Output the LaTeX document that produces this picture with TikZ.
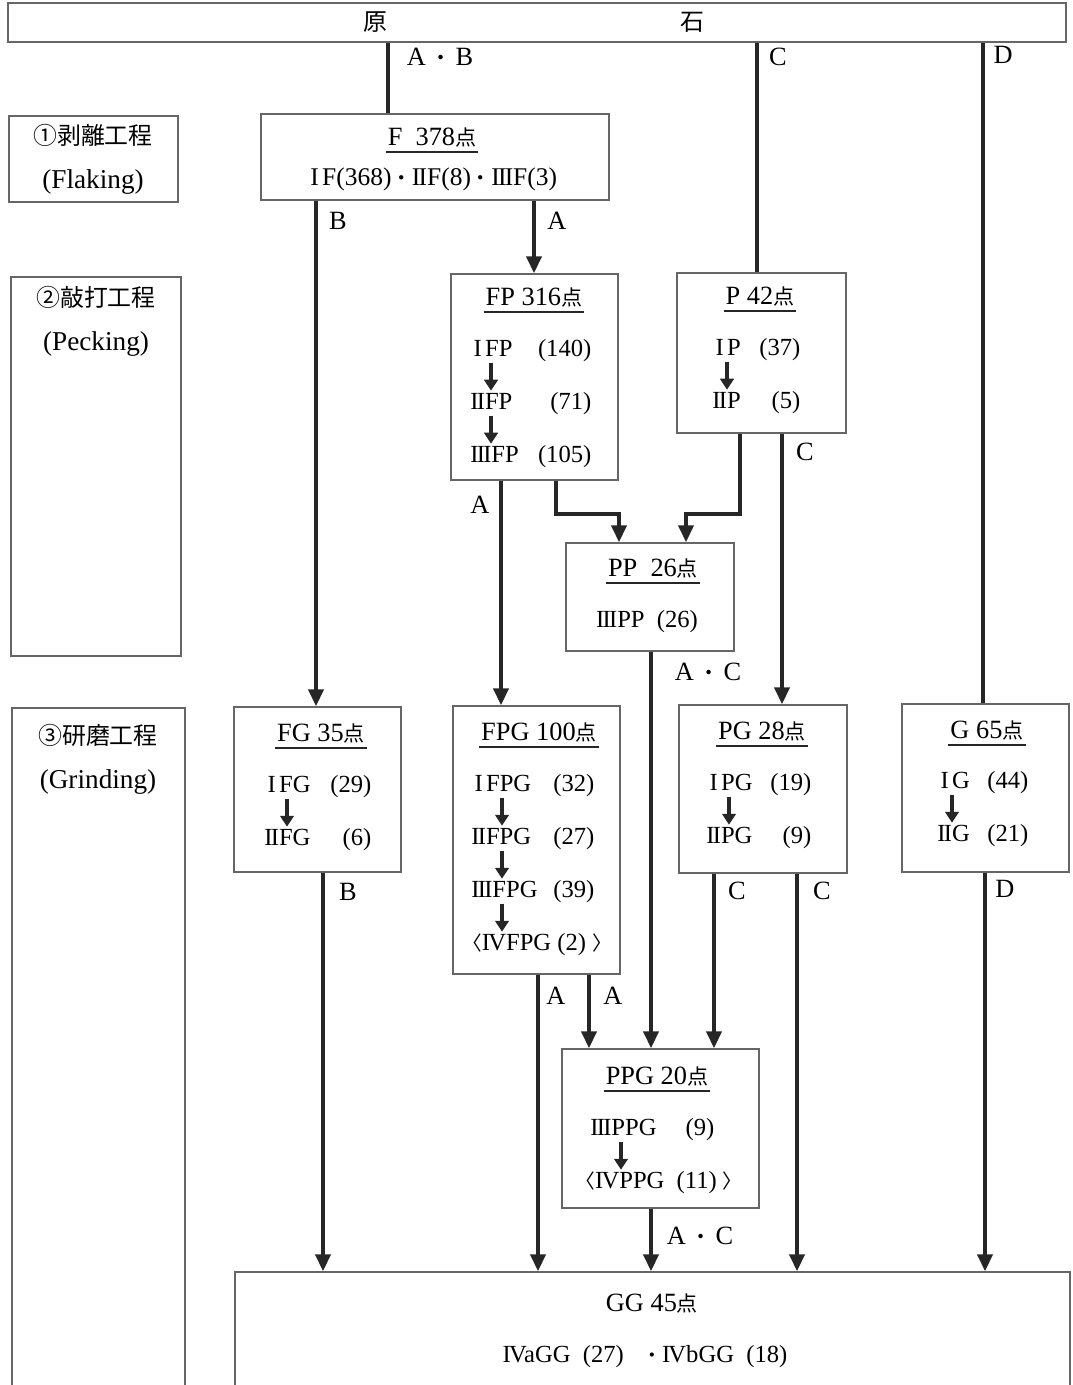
\documentclass[tikz,border=0pt]{standalone}
\usepackage{fontspec}
\setmainfont{Liberation Serif}
\newfontfamily\jp{Noto Sans CJK JP}[Scale=0.8]
\usetikzlibrary{arrows.meta}

% roman numerals built from serif capitals
\newcommand\rI{\makebox[.6em]{I}}
\newcommand\rII{I\kern-.07em I}
\newcommand\rIII{I\kern-.07em I\kern-.07em I}
\newcommand\rIV{I\kern-.07em V}
\newcommand\ten{{\jp 点}}
\newcommand\dt{{\jp ・}}

\begin{document}
\begin{tikzpicture}[
    x=0.02cm, y=-0.02cm,
    box/.style 2 args={draw=black!60, line width=0.8pt, minimum width=#1cm, minimum height=#2cm, inner sep=0pt},
    title/.style={font=\fontsize{15}{18}\selectfont, inner xsep=1pt, inner ysep=0.12cm, text depth=0pt,
      append after command={(\tikzlastnode.south west) edge[-, draw=black!85, line width=0.9pt] (\tikzlastnode.south east)}},
    entry/.style={font=\fontsize{14}{16}\selectfont, text width=#1, inner sep=0pt, anchor=west},
    line/.style={font=\fontsize{14}{16}\selectfont, inner sep=0pt},
    lbl/.style={font=\fontsize{15}{18}\selectfont, inner sep=0pt},
    stage/.style={font=\fontsize{15.5}{25}\selectfont, align=center, inner sep=0pt},
    link/.style={draw=black!85, line width=2.2pt},
    flow/.style={link, line join=miter, -{Triangle[width=0.3cm,length=0.34cm]}},
    minor/.style={draw=black!85, line width=2.6pt, -{Triangle[width=0.27cm,length=0.22cm]}, shorten <=0pt, shorten >=1pt}
  ]
  \useasboundingbox (0,0) rectangle (1072,1385);

  % raw stone
  \node[box={21.16}{0.78}] (stone) at (537,22.5) {};
  \node[lbl, font=\fontsize{17}{20}\selectfont] (gen) at (375,22) {\jp 原};
  \node[lbl, font=\fontsize{17}{20}\selectfont] (seki) at (692,22) {\jp 石};

  % stages
  \node[box={3.38}{1.72}] (flk) at (93.5,159) {};
  \node[stage] (flkT) at (93,159) {{\fontsize{17}{20}\selectfont\jp ①剥離工程}\\(Flaking)};
  \node[box={3.4}{7.58}] (pck) at (96,466.5) {};
  \node[stage] (pckT) at (96,321.5) {{\fontsize{17}{20}\selectfont\jp ②敲打工程}\\(Pecking)};
  \node[box={3.46}{14.24}] (grd) at (98.5,1064) {};
  \node[stage] (grdT) at (98,759) {{\fontsize{17}{20}\selectfont\jp ③研磨工程}\\(Grinding)};

  % flaking
  \node[box={6.96}{1.72}] (F) at (435,157) {};
  \node[title] (Ft) at (432,137) {F\enspace 378\ten};
  \node[line, font=\fontsize{14.5}{17}\selectfont] (F1) at (432,179) {\rI F(368)\dt\rII F(8)\dt\rIII F(3)};

  % pecking
  \node[box={3.34}{4.12}] (FP) at (534.5,377) {};
  \node[title] (FPt) at (534,297) {FP 316\ten};
  \node[entry=2.42cm] (fp1) at (470,351) {\rI FP\hfill(140)};
  \node[entry=2.42cm] (fp2) at (470,404) {\rII FP\hfill(71)};
  \node[entry=2.42cm] (fp3) at (470,457) {\rIII FP\hfill(105)};
  \draw[minor] (fp1.south -| 491,0) -- (fp2.north -| 491,0);
  \draw[minor] (fp2.south -| 491,0) -- (fp3.north -| 491,0);

  \node[box={3.38}{3.2}] (P) at (761.5,353) {};
  \node[title] (Pt) at (760,296) {P 42\ten};
  \node[entry=1.76cm] (p1) at (712,350) {\rI P\hfill(37)};
  \node[entry=1.76cm] (p2) at (712,403) {\rII P\hfill(5)};
  \draw[minor] (p1.south -| 727,0) -- (p2.north -| 727,0);

  \node[box={3.36}{2.16}] (PP) at (650,597) {};
  \node[title] (PPt) at (653,568) {PP\enspace 26\ten};
  \node[line] (pp1) at (647,622) {\rIII PP\ \ (26)};

  % grinding
  \node[box={3.34}{3.3}] (FG) at (317.5,789.5) {};
  \node[title] (FGt) at (321,733) {FG 35\ten};
  \node[entry=2.14cm] (fg1) at (264,787) {\rI FG\hfill(29)};
  \node[entry=2.14cm] (fg2) at (264,840) {\rII FG\hfill(6)};
  \draw[minor] (fg1.south -| 287,0) -- (fg2.north -| 287,0);

  \node[box={3.34}{5.36}] (FPG) at (536.5,840) {};
  \node[title] (FPGt) at (539,732) {FPG 100\ten};
  \node[entry=2.46cm] (fpg1) at (471,786) {\rI FPG\hfill(32)};
  \node[entry=2.46cm] (fpg2) at (471,839) {\rII FPG\hfill(27)};
  \node[entry=2.46cm] (fpg3) at (471,892) {\rIII FPG\hfill(39)};
  \node[line] (fpg4) at (537,945) {{\jp 〈}\rIV FPG (2) {\jp 〉}};
  \draw[minor] (fpg1.south -| 502,0) -- (fpg2.north -| 502,0);
  \draw[minor] (fpg2.south -| 502,0) -- (fpg3.north -| 502,0);
  \draw[minor] (fpg3.south -| 502,0) -- (fpg4.north -| 502,0);

  \node[box={3.36}{3.36}] (PG) at (763,789) {};
  \node[title] (PGt) at (762,731) {PG 28\ten};
  \node[entry=2.1cm] (pg1) at (706,785) {\rI PG\hfill(19)};
  \node[entry=2.1cm] (pg2) at (706,838) {\rII PG\hfill(9)};
  \draw[minor] (pg1.south -| 729,0) -- (pg2.north -| 729,0);

  \node[box={3.34}{3.36}] (G) at (985.5,788) {};
  \node[title] (Gt) at (987,730) {G 65\ten};
  \node[entry=1.82cm] (g1) at (937,783) {\rI G\hfill(44)};
  \node[entry=1.82cm] (g2) at (937,836) {\rII G\hfill(21)};
  \draw[minor] (g1.south -| 952,0) -- (g2.north -| 952,0);

  \node[box={3.94}{3.18}] (PPG) at (660.5,1128.5) {};
  \node[title] (PPGt) at (657,1076) {PPG 20\ten};
  \node[entry=2.48cm] (ppg1) at (590,1130) {\rIII PPG\hfill(9)};
  \node[line] (ppg2) at (659,1183) {{\jp 〈}\rIV PPG\ \ (11) {\jp 〉}};
  \draw[minor] (ppg1.south -| 621,0) -- (ppg2.north -| 621,0);

  \node[box={16.7}{2.96}] (GG) at (652.5,1346) {};
  \node[lbl] (GGt) at (652,1303) {GG 45\ten};
  \node[line] (gg1) at (645,1357) {\rIV aGG\ \ (27)\ \ \ \dt\rIV bGG\ \ (18)};

  % connectors
  \draw[link] (stone.south -| 388,0) -- (F.north -| 388,0);
  \draw[link] (stone.south -| 757,0) -- (P.north -| 757,0);
  \draw[link] (stone.south -| 983,0) -- (G.north -| 983,0);
  \draw[flow] (F.south -| 316,0) -- (FG.north -| 316,0);
  \draw[flow] (F.south -| 534,0) -- (FP.north -| 534,0);
  \draw[flow] (FP.south -| 501,0) -- (FPG.north -| 501,0);
  \draw[flow] (FP.south -| 556,0) |- (588,514) -| (PP.north -| 619,0);
  \draw[flow] (P.south -| 740,0) |- (713,514) -| (PP.north -| 686,0);
  \draw[flow] (P.south -| 782,0) -- (PG.north -| 782,0);
  \draw[flow] (PP.south -| 651,0) -- (PPG.north -| 651,0);
  \draw[flow] (FG.south -| 323,0) -- (GG.north -| 323,0);
  \draw[flow] (FPG.south -| 538,0) -- (GG.north -| 538,0);
  \draw[flow] (FPG.south -| 589,0) -- (PPG.north -| 589,0);
  \draw[flow] (PG.south -| 714,0) -- (PPG.north -| 714,0);
  \draw[flow] (PG.south -| 797,0) -- (GG.north -| 797,0);
  \draw[flow] (G.south -| 985,0) -- (GG.north -| 985,0);
  \draw[flow] (PPG.south -| 651,0) -- (GG.north -| 651,0);

  % connector labels
  \node[lbl] (lAB) at (440,57) {A\,\dt\,B};
  \node[lbl] (lC) at (778,57) {C};
  \node[lbl] (lD) at (1003,55) {D};
  \node[lbl] (lB1) at (338,221) {B};
  \node[lbl] (lA1) at (557,221) {A};
  \node[lbl] (lA2) at (480,505) {A};
  \node[lbl] (lC1) at (805,452) {C};
  \node[lbl] (lAC1) at (708,672) {A\,\dt\,C};
  \node[lbl] (lB2) at (348,892) {B};
  \node[lbl] (lC2) at (737,891) {C};
  \node[lbl] (lC3) at (822,891) {C};
  \node[lbl] (lD2) at (1005,889) {D};
  \node[lbl] (lA3) at (556,996) {A};
  \node[lbl] (lA4) at (613,996) {A};
  \node[lbl] (lAC2) at (700,1236) {A\,\dt\,C};
\end{tikzpicture}
\end{document}
